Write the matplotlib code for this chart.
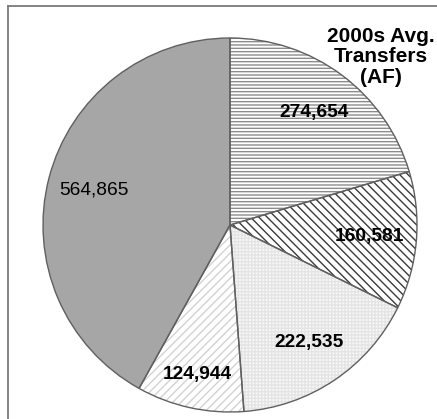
import matplotlib
matplotlib.use("Agg")
import matplotlib.pyplot as plt
from matplotlib.lines import Line2D
import numpy as np

plt.rcParams['font.family'] = ['Liberation Sans', 'DejaVu Sans']

# Average transfers (acre-feet) in the 2000s
values = [274654, 160581, 222535, 124944, 564865]
labels = ['274,654', '160,581', '222,535', '124,944', '564,865']
face_colors = ['white', 'white', '#f8f8f8', 'white', '#a6a6a6']
hatch_colors = ['#8c8c8c', '#3a3a3a', '#e4e4e4', '#d2d2d2', '#a6a6a6']
hatches = ['-----', '\\\\\\\\', '+++++', '////', '']
label_radius = [0.75, 0.75, 0.76, 0.82, 0.75]
label_weight = ['bold', 'bold', 'bold', 'bold', 'normal']

W, H = 437, 419
fig = plt.figure(figsize=(W / 100, H / 100), dpi=100)
ax = fig.add_axes([0, 0, 1, 1])

# pie centre and radius in pixels
cx, cy, r = 230, 225, 187

plt.rcParams['hatch.linewidth'] = 1.0

# hatched fill layer
wedges, _ = ax.pie(values, startangle=90, counterclock=False, radius=1,
                   colors=face_colors, frame=True,
                   wedgeprops=dict(linewidth=0))
for w, hc, h in zip(wedges, hatch_colors, hatches):
    w.set_edgecolor(hc)
    w.set_hatch(h)

# outline layer
outl, _ = ax.pie(values, startangle=90, counterclock=False, radius=1,
                 frame=True,
                 wedgeprops=dict(fill=False, edgecolor='#606060', linewidth=1.0))

ax.set_xlim(-cx / r, (W - cx) / r)
ax.set_ylim(-(H - cy) / r, cy / r)
ax.set_aspect('equal')
ax.axis('off')

# value labels
for w, lab, lr, fw in zip(wedges, labels, label_radius, label_weight):
    ang = np.deg2rad((w.theta1 + w.theta2) / 2)
    ax.text(lr * np.cos(ang), lr * np.sin(ang), lab, ha='center', va='center',
            fontsize=13.8, fontweight=fw, color='black')

fig.text(381 / W, 1 - 57 / H, '2000s Avg.\nTransfers\n(AF)', ha='center',
         va='center', fontsize=15, fontweight='bold', linespacing=1.1)

# frame (only top and left edges visible)
fig.add_artist(Line2D([8 / W, 1], [1 - 6 / H, 1 - 6 / H], color='#7a7a7a', lw=1.3))
fig.add_artist(Line2D([8 / W, 8 / W], [0, 1 - 6 / H], color='#7a7a7a', lw=1.3))

fig.savefig('out.png', dpi=100)
